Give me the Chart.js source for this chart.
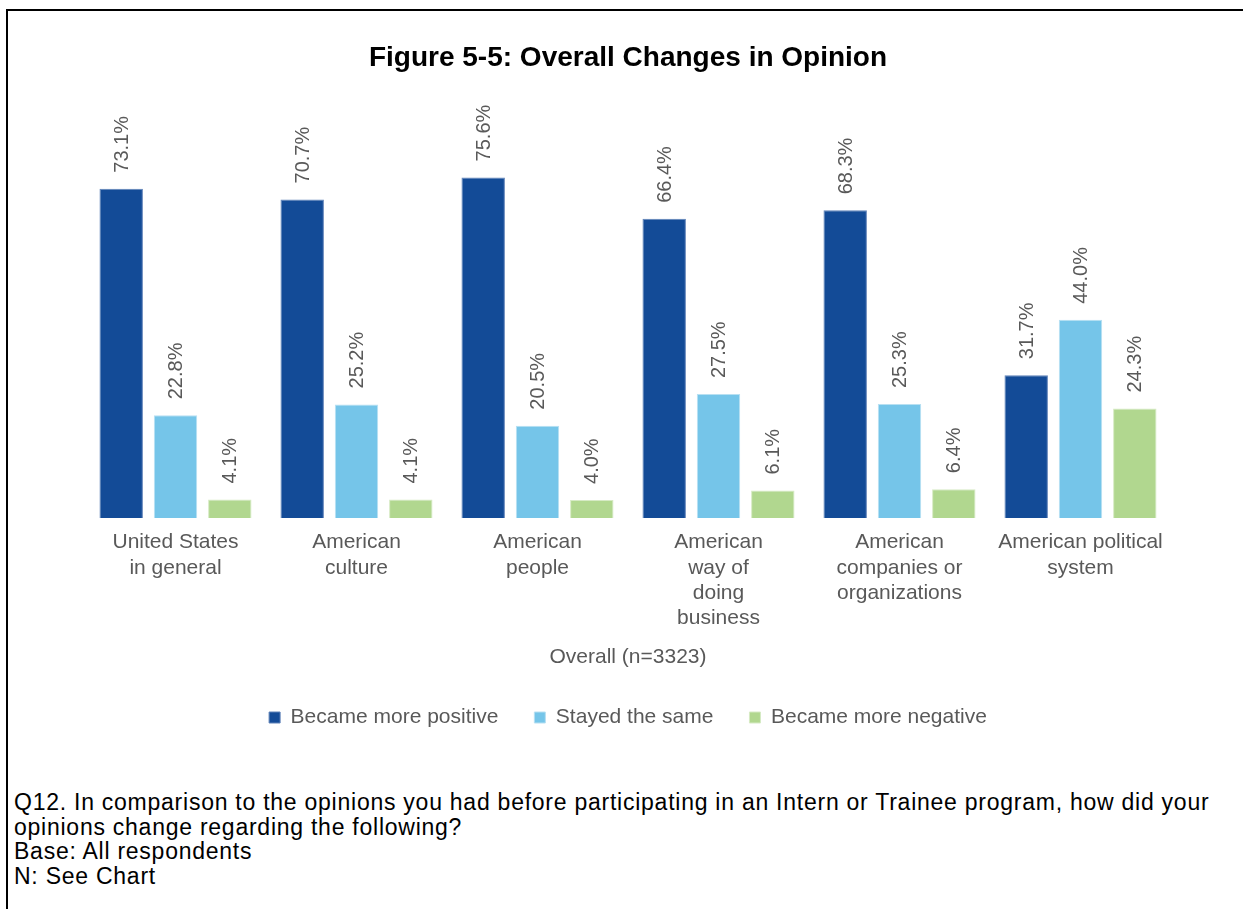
<!DOCTYPE html>
<html>
<head>
<meta charset="utf-8">
<script src="https://cdn.jsdelivr.net/npm/chart.js@4/dist/chart.umd.min.js"></script>
<style>
 html, body {margin:0; background:#fff; overflow:hidden; font-family:"Liberation Sans", Arial, sans-serif;}
 #frame {position:absolute; left:6px; top:9px; width:1237px; height:900px; border-top:2px solid #000; border-left:2px solid #000; box-sizing:border-box;}
 #chartBox {position:absolute; left:0; top:0; width:1243px; height:760px;}
 #note {position:absolute; left:14px; top:790px; font-size:23px; letter-spacing:0.75px; line-height:24.5px; color:#000; white-space:nowrap;}
</style>
</head>
<body>
<div id="frame"></div>
<div id="chartBox"><canvas id="chartID"></canvas></div>
<div id="note">Q12. In comparison to the opinions you had before participating in an Intern or Trainee program, how did your<br>opinions change regarding the following?<br>Base: All respondents<br>N: See Chart</div>

<script>
// chart data
var categories=[["United States","in general"],["American","culture"],["American","people"],["American","way of","doing","business"],["American","companies or","organizations"],["American political","system"]];
var morePositive=[73.1,70.7,75.6,66.4,68.3,31.7];
var stayedSame=[22.8,25.2,20.5,27.5,25.3,44.0];
var moreNegative=[4.1,4.1,4.0,6.1,6.4,24.3];

var grey='#595959';
var fontName='"Liberation Sans", Arial, sans-serif';

// rotated value labels above bars
var barLabels={
 id:'barLabels',
 afterDatasetsDraw(chart) {
  var ctx=chart.ctx;
  ctx.save();
  ctx.font='20px '+fontName;
  ctx.fillStyle=grey;
  ctx.textAlign='left';
  ctx.textBaseline='middle';
  chart.data.datasets.forEach(function(ds,i) {
   chart.getDatasetMeta(i).data.forEach(function(bar,j) {
    ctx.save();
    ctx.translate(bar.x+1,bar.y-16);
    ctx.rotate(-Math.PI/2);
    ctx.fillText(ds.data[j].toFixed(1)+'%',0,0);
    ctx.restore();
   });
  });
  ctx.restore();
 }
};

var ctx=document.getElementById('chartID').getContext('2d');
new Chart(ctx,{type:'bar',
 data:{labels:categories,datasets:[
  {label:'Became more positive',data:morePositive,backgroundColor:'#134B97',borderColor:'#5f82b8',borderWidth:1},
  {label:'Stayed the same',data:stayedSame,backgroundColor:'#75C5E9',borderColor:'#b8e0f2',borderWidth:1},
  {label:'Became more negative',data:moreNegative,backgroundColor:'#B1D78F',borderColor:'#d6eac4',borderWidth:1}
 ]},
 options:{responsive:true,maintainAspectRatio:false,animation:false,
  layout:{padding:{left:85,right:72,top:0,bottom:22}},
  datasets:{bar:{barPercentage:0.8,categoryPercentage:0.9}},
  plugins:{
   title:{display:true,text:'Figure 5-5: Overall Changes in Opinion',color:'#000',
    font:{family:fontName,size:28,weight:'bold',lineHeight:1.2},padding:{top:41,bottom:83}},
   legend:{position:'bottom',
    labels:{color:grey,font:{family:fontName,size:21},boxWidth:11,boxHeight:11,padding:36}},
   tooltip:{enabled:false}
  },
  scales:{
   x:{grid:{display:false,drawTicks:false},border:{display:false},
    ticks:{color:grey,font:{family:fontName,size:21,lineHeight:1.2},padding:12,maxRotation:0,autoSkip:false},
    title:{display:true,text:'Overall (n=3323)',color:grey,font:{family:fontName,size:21,lineHeight:1.2},padding:{top:2,bottom:1}}},
   y:{display:false,min:0,max:80}
  }
 },
 plugins:[barLabels]
});
</script>
</body>
</html>
